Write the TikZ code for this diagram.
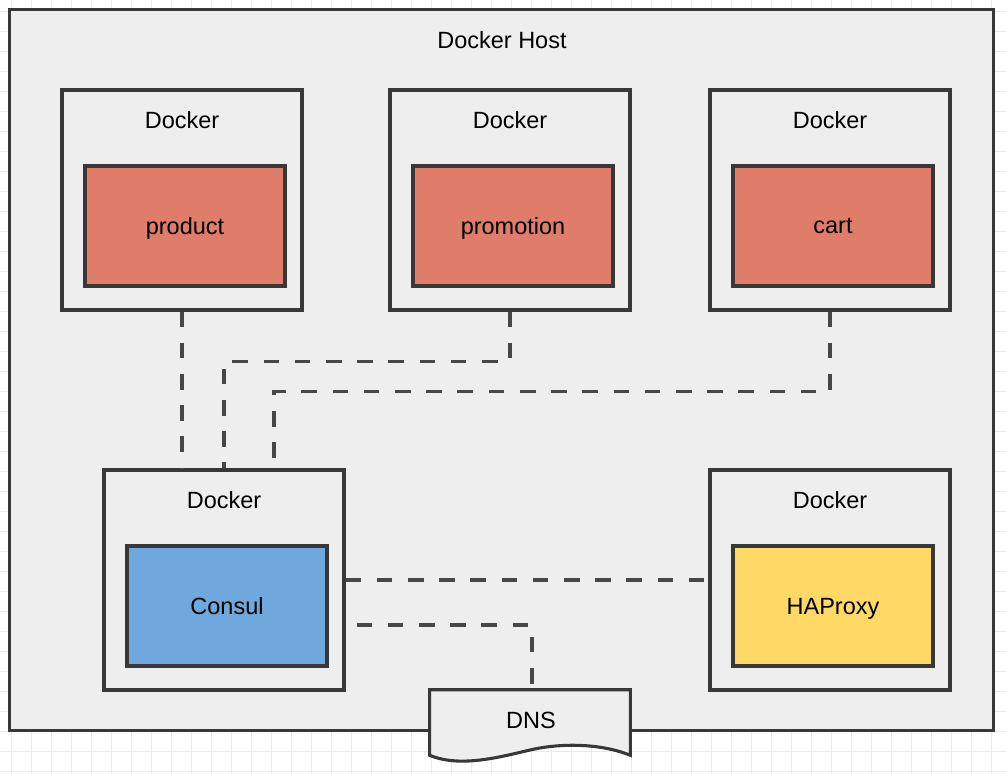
\documentclass[tikz,border=0pt]{standalone}
\usepackage{fontspec}
\setmainfont{Liberation Sans}
\usetikzlibrary{calc}
\definecolor{hostfill}{HTML}{EEEEEE}
\definecolor{boxline}{HTML}{383838}
\definecolor{linkgray}{HTML}{474747}
\definecolor{gridline}{HTML}{E8E8FA}
\definecolor{srvred}{HTML}{E07D6A}
\definecolor{srvblue}{HTML}{6FA8DC}
\definecolor{srvyellow}{HTML}{FFD966}
\begin{document}
\begin{tikzpicture}[x=0.025cm,y=-0.025cm,font=\fontsize{16.7}{20}\selectfont,
		box/.style={draw=boxline,line width=2.2pt,fill=hostfill},
		docker/.style={box,minimum width=6cm,minimum height=5.5cm,inner sep=0pt},
		service/.style={draw=boxline,line width=2.2pt,minimum width=5cm,minimum height=3cm,inner sep=0pt,text depth=0pt},
		link/.style={draw=linkgray,line width=2.2pt,dash pattern=on 0.39cm off 0.39cm}]
			\useasboundingbox (0,0) rectangle (1006,774);
			\foreach \g in {11,31,...,1006}{
				\draw[gridline,line width=0.6pt] (\g,0)--(\g,774);}
			\foreach \g in {11,31,...,774}{
				\draw[gridline,line width=0.6pt] (0,\g)--(1006,\g);}
			%===========================================
			\node[box,minimum width=24.575cm,minimum height=18cm] (host) at (501.5,370) {};
			\node (hostt) at (502,40) {Docker Host};
			\foreach \n/\x/\y/\s/\c in {1/182/200/product/srvred,2/510/200/promotion/srvred,
				3/830/200/cart/srvred,4/224/580/Consul/srvblue,5/830/580/HAProxy/srvyellow}{
				\node[docker] (d\n) at (\x,\y) {};
				\node (d\n t) at (\x,\y-80) {Docker};
				\node[service,fill=\c] (s\n) at (\x+3,\y+26) {\s};}
			%===========================================
			\node[minimum width=5cm,minimum height=1.625cm,inner sep=0pt] (dns) at (530,722.5) {};
			\draw[box] (dns.south east) -- (dns.north east) -- (dns.north west) -- (dns.south west)
				.. controls (460,768) and (500,757) .. (530,750)
				.. controls (560,743) and (600,743) .. (dns.south east) -- cycle;
			\node (dnst) at (531,720) {DNS};
			%===========================================
			\draw[link] (d1.south) -- (d1.south |- d4.north);
			\draw[link] (d2.south) -- ++(0,50) -| (d4.north);
			\draw[link] (d3.south) -- ++(0,80) -| ($(d4.north)+(50,0)$);
			\draw[link] (d4.east) -- (d5.west);
			\draw[link] ($(d4.east)+(11,45)$) -| ($(dns.north)+(2,0)$);
	\end{tikzpicture}
\end{document}
